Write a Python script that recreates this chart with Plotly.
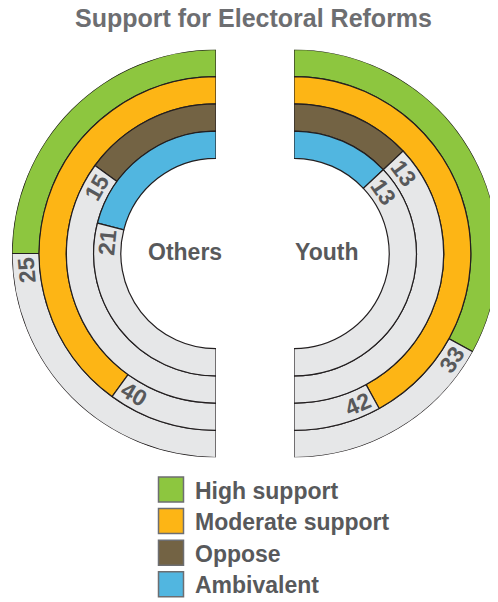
import math
import plotly.graph_objects as go

# ---------------- data ----------------
groups = ["Others", "Youth"]
categories = ["High support", "Moderate support", "Oppose", "Ambivalent"]
others_values = [25, 40, 15, 21]
youth_values = [33, 42, 13, 13]
title_text = "Support for Electoral Reforms"

# ---------------- style ----------------
colors = ["#8dc63f", "#fdb515", "#736344", "#51b6e0"]
remainder_color = "#e6e7e8"
outline = "#231f20"
text_dark = "#58595b"
title_color = "#6d6e71"
FONT = "Arial, 'Liberation Sans', sans-serif"
scale_max = 50.0  # a half circle represents 50 %

PAGE_OFF = 8.0            # default page body margin
W, H = 490, 594           # figure size (fits the 498x602 window with the body margin)


def fx(x):
    return (x - PAGE_OFF) / W


def fy(y):
    return 1 - (y - PAGE_OFF) / H


R = 204.0          # outer radius in px
CY = 253.5         # vertical centre in window px
CX = {"Others": 216.0, "Youth": 294.0}
inner = 3.5
ring = 1.0
rmax = inner + len(categories) * ring
u = R / rmax       # px per radial unit
NUM_SIZE = 23

fig = go.Figure()

annotations = []
for gi, (g, vals) in enumerate(zip(groups, [others_values, youth_values])):
    subplot = "polar" if gi == 0 else "polar2"
    thetas, widths, bases, cols = [], [], [], []
    for k, v in enumerate(vals):
        base = inner + (len(categories) - 1 - k) * ring
        span = v / scale_max * 180.0
        thetas += [span / 2.0, (span + 180.0) / 2.0]
        widths += [span, 180.0 - span]
        bases += [base, base]
        cols += [colors[k], remainder_color]

        # value label just after the end of the coloured arc
        r_px = (base + ring / 2.0) * u
        half_len = 0.556 * NUM_SIZE * len(str(v)) / 2.0
        off = math.degrees((half_len + 3.5) / r_px)
        a = span + off
        if gi == 0:
            phi = math.radians(90 + a)
            t = -a
        else:
            phi = math.radians(90 - a)
            t = a
        if t < -100:
            t += 180
        if t > 100:
            t -= 180
        px = CX[g] + r_px * math.cos(phi)
        py = CY - r_px * math.sin(phi)
        annotations.append(dict(
            x=fx(px), y=fy(py), xref="paper", yref="paper",
            text=str(v), showarrow=False, textangle=t,
            xanchor="center", yanchor="middle",
            font=dict(family=FONT, size=NUM_SIZE, color=text_dark, weight="bold")))

    fig.add_trace(go.Barpolar(
        r=[ring] * len(thetas), theta=thetas, width=widths, base=bases,
        marker=dict(color=cols, line=dict(color=outline, width=1.2)),
        subplot=subplot, showlegend=False, hoverinfo="skip"))

# group labels
annotations.append(dict(x=fx(184.5), y=fy(252), xref="paper", yref="paper",
                        text=groups[0], showarrow=False, xanchor="center", yanchor="middle",
                        font=dict(family=FONT, size=23, color=text_dark, weight="bold")))
annotations.append(dict(x=fx(326), y=fy(252), xref="paper", yref="paper",
                        text=groups[1], showarrow=False, xanchor="center", yanchor="middle",
                        font=dict(family=FONT, size=23, color=text_dark, weight="bold")))

# title
annotations.append(dict(x=fx(253.5), y=fy(18), xref="paper", yref="paper",
                        text=title_text, showarrow=False, xanchor="center", yanchor="middle",
                        font=dict(family=FONT, size=25, color=title_color, weight="bold")))

# custom legend
shapes = []
leg_x0, leg_top, sq, step = 158.5, 477.0, 25.0, 31.6
for k, c in enumerate(categories):
    y0 = leg_top + k * step
    shapes.append(dict(type="rect", xref="paper", yref="paper",
                       x0=fx(leg_x0), x1=fx(leg_x0 + sq),
                       y0=fy(y0 + sq), y1=fy(y0),
                       fillcolor=colors[k], line=dict(color="#6d6e71", width=1.5)))
    annotations.append(dict(x=fx(193), y=fy(y0 + sq / 2 + 1), xref="paper", yref="paper",
                            text=c, showarrow=False, xanchor="left", yanchor="middle",
                            font=dict(family=FONT, size=23, color=text_dark, weight="bold")))

ydom = [fy(CY + R), fy(CY - R)]
fig.update_layout(
    width=W, height=H,
    margin=dict(l=0, r=0, t=0, b=0),
    paper_bgcolor="white",
    showlegend=False,
    polar=dict(
        domain=dict(x=[fx(CX["Others"] - R), fx(CX["Others"])], y=ydom),
        sector=[90, 270], hole=0, bgcolor="rgba(0,0,0,0)",
        radialaxis=dict(visible=False, range=[0, rmax]),
        angularaxis=dict(visible=False, rotation=90, direction="counterclockwise"),
    ),
    polar2=dict(
        domain=dict(x=[fx(CX["Youth"]), min(1.0, fx(CX["Youth"] + R))], y=ydom),
        sector=[-90, 90], hole=0, bgcolor="rgba(0,0,0,0)",
        radialaxis=dict(visible=False, range=[0, rmax]),
        angularaxis=dict(visible=False, rotation=90, direction="clockwise"),
    ),
    annotations=annotations,
    shapes=shapes,
)

fig.write_html("out.html")
